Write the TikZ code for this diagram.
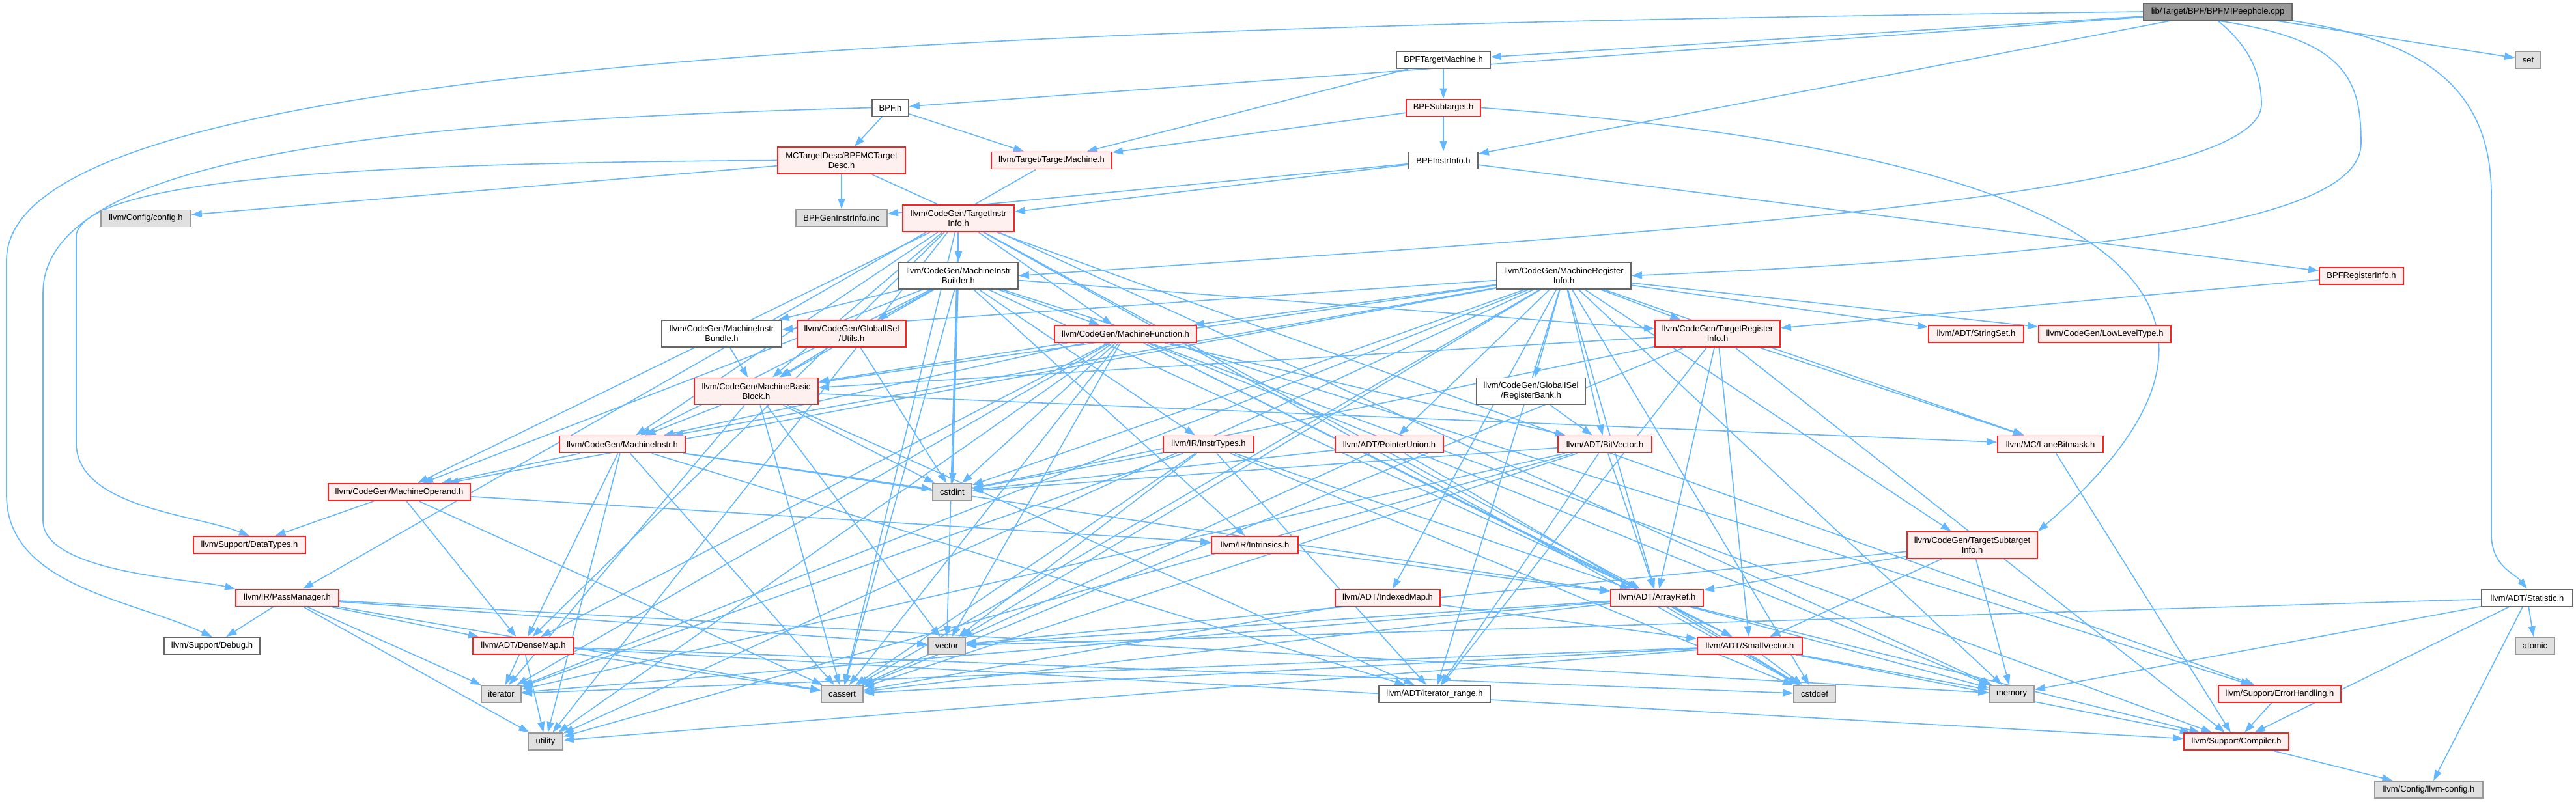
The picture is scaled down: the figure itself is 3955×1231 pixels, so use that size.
\documentclass[tikz,border=0pt]{standalone}
\usepackage{fontspec}
\setmainfont{Liberation Sans}
\usetikzlibrary{arrows.meta}
\definecolor{edgec}{HTML}{63B8FF}
\definecolor{redb}{HTML}{FF2020}
\definecolor{redfill}{HTML}{FFF0F0}
\definecolor{grayfill}{HTML}{E0E0E0}
\definecolor{grayb}{HTML}{999999}
\definecolor{whiteb}{HTML}{666666}
\definecolor{rootfill}{HTML}{999999}
\pgfdeclarelayer{bg}
\pgfdeclarelayer{paper}
\pgfsetlayers{paper,bg,main}
\tikzset{
  base/.style={rectangle, inner sep=0pt, minimum height=13pt, align=center,
    font=\fontsize{6.5}{7.5}\selectfont, line width=0.9pt},
  bw/.style={minimum width=#1*0.5pt},
  two/.style={minimum height=20.5pt},
  wbox/.style={base, draw=whiteb, fill=white},
  rbox/.style={base, draw=redb, fill=redfill},
  gbox/.style={base, draw=grayb, fill=grayfill},
  rootbox/.style={base, draw=whiteb, fill=rootfill},
  edge/.style={draw=edgec, line width=0.8pt, -{Triangle[length=8pt,width=5.5pt]}}
}
\begin{document}
\begin{tikzpicture}[x=0.5pt,y=-0.5pt]
\begin{pgfonlayer}{paper}
\fill[white] (0,0) rectangle (3955,1231);
\end{pgfonlayer}
\useasboundingbox (0,0) rectangle (3955,1231);
% nodes
\node[rootbox, bw=228] (cpp) at (3405,18) {lib/Target/BPF/BPFMIPeephole.cpp};
\node[wbox, bw=144] (btm) at (2216,92) {BPFTargetMachine.h};
\node[gbox, bw=39] (set) at (3881.5,92) {set};
\node[wbox, bw=56] (bpfh) at (1367,165.5) {BPF.h};
\node[rbox, bw=114] (bsub) at (2216,165.5) {BPFSubtarget.h};
\node[rbox, bw=196, two] (mctd) at (1292,246.5) {MCTargetDesc/BPFMCTarget\\Desc.h};
\node[rbox, bw=185] (tm) at (1614.5,246.5) {llvm/Target/TargetMachine.h};
\node[wbox, bw=106] (bii) at (2216,246.5) {BPFInstrInfo.h};
\node[gbox, bw=138] (cfg) at (224,335.5) {llvm/Config/config.h};
\node[gbox, bw=140] (geninc) at (1292,335) {BPFGenInstrInfo.inc};
\node[rbox, bw=171, two] (tii) at (1471.5,335.5) {llvm/CodeGen/TargetInstr\\Info.h};
\node[wbox, bw=183, two] (mib) at (1471.5,423.5) {llvm/CodeGen/MachineInstr\\Builder.h};
\node[wbox, bw=206, two] (mri) at (2401,423.5) {llvm/CodeGen/MachineRegister\\Info.h};
\node[rbox, bw=129] (bri) at (3625.5,424) {BPFRegisterInfo.h};
\node[wbox, bw=184, two] (bundle) at (1108,512.5) {llvm/CodeGen/MachineInstr\\Bundle.h};
\node[rbox, bw=167, two] (gutils) at (1307.5,512.5) {llvm/CodeGen/GlobalISel\\/Utils.h};
\node[rbox, bw=218] (mf) at (1728,513) {llvm/CodeGen/MachineFunction.h};
\node[rbox, bw=192, two] (tri) at (2637,512.5) {llvm/CodeGen/TargetRegister\\Info.h};
\node[rbox, bw=146] (sset) at (3034,513) {llvm/ADT/StringSet.h};
\node[rbox, bw=203] (llt) at (3231.5,513) {llvm/CodeGen/LowLevelType.h};
\node[rbox, bw=190, two] (mbb) at (1161,601) {llvm/CodeGen/MachineBasic\\Block.h};
\node[wbox, bw=167, two] (rbank) at (2350.5,601) {llvm/CodeGen/GlobalISel\\/RegisterBank.h};
\node[rbox, bw=193] (mi) at (955.5,682.5) {llvm/CodeGen/MachineInstr.h};
\node[rbox, bw=139] (itypes) at (1855.5,682.5) {llvm/IR/InstrTypes.h};
\node[rbox, bw=166] (punion) at (2133,682.5) {llvm/ADT/PointerUnion.h};
\node[rbox, bw=144] (bvec) at (2464,682.5) {llvm/ADT/BitVector.h};
\node[rbox, bw=162] (lbm) at (3148,682.5) {llvm/MC/LaneBitmask.h};
\node[rbox, bw=218] (mop) at (613,756) {llvm/CodeGen/MachineOperand.h};
\node[gbox, bw=60] (cstdint) at (1462,756) {cstdint};
\node[rbox, bw=172] (dtypes) at (383,837) {llvm/Support/DataTypes.h};
\node[rbox, bw=133] (intr) at (1926.5,837) {llvm/IR/Intrinsics.h};
\node[rbox, bw=200, two] (tsi) at (3028,837.5) {llvm/CodeGen/TargetSubtarget\\Info.h};
\node[rbox, bw=158] (pm) at (441,918.5) {llvm/IR/PassManager.h};
\node[rbox, bw=161] (imap) at (2130.5,918.5) {llvm/ADT/IndexedMap.h};
\node[rbox, bw=142] (aref) at (2544,918.5) {llvm/ADT/ArrayRef.h};
\node[wbox, bw=140] (stat) at (3880,918.5) {llvm/ADT/Statistic.h};
\node[wbox, bw=147] (debug) at (325.5,992) {llvm/Support/Debug.h};
\node[rbox, bw=155] (dmap) at (803.5,992) {llvm/ADT/DenseMap.h};
\node[gbox, bw=57] (vector) at (1453.5,992) {vector};
\node[rbox, bw=161] (svec) at (2686.5,992) {llvm/ADT/SmallVector.h};
\node[gbox, bw=60] (atomic) at (3892,992) {atomic};
\node[gbox, bw=61] (iter) at (769.5,1066) {iterator};
\node[gbox, bw=64] (cassert) at (1293,1066) {cassert};
\node[wbox, bw=171] (irange) at (2202.5,1066) {llvm/ADT/iterator\_range.h};
\node[gbox, bw=64] (cstddef) at (2786,1066) {cstddef};
\node[gbox, bw=69] (memory) at (3088.5,1066) {memory};
\node[rbox, bw=188] (errh) at (3500,1066) {llvm/Support/ErrorHandling.h};
\node[gbox, bw=53] (utility) at (837.5,1139) {utility};
\node[rbox, bw=161] (comp) at (3433.5,1139) {llvm/Support/Compiler.h};
\node[gbox, bw=166] (lcfg) at (3729,1213) {llvm/Config/llvm-config.h};
% edges
\begin{pgfonlayer}{bg}
\draw[edge] (cpp.west) .. controls (1500,40) and (10,90) .. (10,400) -- (10,760) .. controls (10,900) and (200,920) .. (debug.north);
\draw[edge] (bpfh.west) .. controls (600,185) and (66,240) .. (66,450) -- (66,800) .. controls (66,880) and (300,890) .. (pm.north west);
\draw[edge] (mctd.west) .. controls (600,250) and (140,270) .. (117,360) -- (117,680) .. controls (117,780) and (300,790) .. (dtypes.north);
\draw[edge] (cpp.south east) .. controls (3700,60) and (3825,120) .. (3825,300) -- (3825,820) .. controls (3825,870) and (3860,880) .. (stat.north);
\draw[edge] (cpp.south) .. controls (3600,60) and (3625,120) .. (3625,220) .. controls (3625,330) and (3300,390) .. (mri.east);
\draw[edge] (cpp.south) .. controls (3440,60) and (3472,100) .. (3472,160) .. controls (3472,300) and (2600,355) .. (mib.east);
\draw[edge] (bsub.east) .. controls (3300,240) and (3520,480) .. (tsi.north east);
\foreach \s/\t in {cpp/bpfh, cpp/bii, cpp/btm, cpp/set,
  btm/bsub, btm/tm, bsub/bii, bsub/tm,
  bpfh/mctd, bpfh/tm, mctd/cfg, mctd/geninc, mctd/memory,
  bii/geninc, bii/tii, bii/bri, tm/pm, bri/tri,
  tii/mib, tii/mf, tii/mbb, tii/mi, tii/mop, tii/aref, tii/dmap, tii/errh, tii/cassert, tii/cstddef, tii/cstdint, tii/utility, tii/vector,
  mib/bundle, mib/gutils, mib/mf, mib/mbb, mib/mi, mib/mop, mib/tri, mib/itypes, mib/intr, mib/aref, mib/errh, mib/cassert, mib/cstdint,
  mri/tri, mri/rbank, mri/punion, mri/bvec, mri/imap, mri/aref, mri/sset, mri/llt, mri/lbm, mri/mbb, mri/mf, mri/mi, mri/bundle, mri/mop, mri/tsi, mri/irange, mri/cassert, mri/cstddef, mri/cstdint, mri/iter, mri/memory, mri/utility, mri/vector,
  mf/mbb, mf/mi, mf/aref, mf/bvec, mf/dmap, mf/svec, mf/iter, mf/comp, mf/cassert, mf/cstdint, mf/memory, mf/utility, mf/vector,
  tri/mbb, tri/lbm, tri/aref, tri/svec, tri/irange, tri/cassert, tri/cstdint, tri/comp,
  mbb/mi, mbb/lbm, mbb/irange, mbb/cassert, mbb/cstdint, mbb/iter, mbb/vector,
  bundle/mbb, gutils/mbb, gutils/cstdint,
  mi/mop, mi/dmap, mi/irange, mi/aref, mi/cassert, mi/cstdint, mi/utility,
  mop/dtypes, mop/intr, mop/dmap, mop/cassert,
  itypes/aref, itypes/irange, itypes/cassert, itypes/cstddef, itypes/cstdint, itypes/iter, itypes/vector,
  intr/aref, punion/cassert, punion/cstddef, punion/cstdint,
  bvec/aref, bvec/irange, bvec/cassert, bvec/cstdint, bvec/utility, bvec/iter,
  rbank/bvec, imap/svec, imap/cassert,
  aref/svec, aref/comp, aref/cassert, aref/cstddef, aref/iter, aref/memory, aref/vector,
  svec/comp, svec/cassert, svec/cstddef, svec/iter, svec/memory, svec/utility,
  dmap/comp, dmap/cassert, dmap/cstddef, dmap/iter, dmap/utility,
  pm/dmap, pm/debug, pm/cassert, pm/iter, pm/memory, pm/utility, pm/vector,
  tsi/aref, tsi/svec, tsi/memory, tsi/vector,
  lbm/comp, stat/lcfg, stat/comp, stat/atomic, stat/memory, stat/vector,
  errh/comp, comp/lcfg}
  \draw[edge] (\s) -- (\t);
\end{pgfonlayer}
\end{tikzpicture}
\end{document}
